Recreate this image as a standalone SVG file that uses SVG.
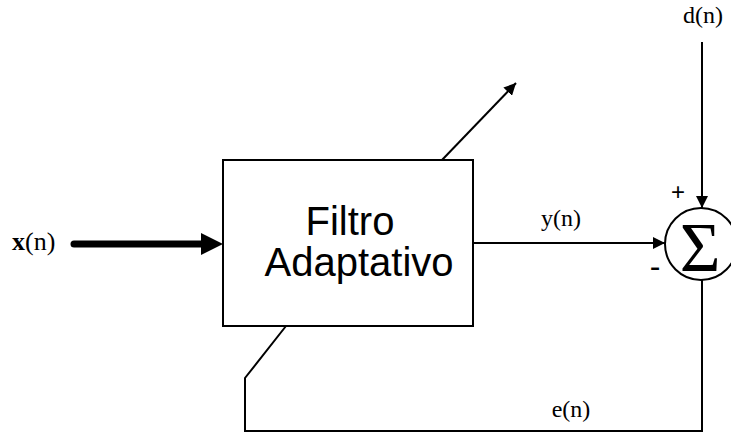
<svg xmlns="http://www.w3.org/2000/svg" width="731" height="439" viewBox="0 0 731 439">
<style>
.ln{fill:none;stroke:#000;stroke-width:2}
.lbl{font-family:"Liberation Serif","Times New Roman",serif;font-size:24px;fill:#000}
.sans{font-family:"Liberation Sans",Arial,sans-serif;fill:#000}
</style>
<defs>
<marker id="ah2" viewBox="0 0 10 10" refX="10" refY="5" markerWidth="12" markerHeight="12" markerUnits="userSpaceOnUse" orient="auto">
<path d="M0,0 L10,5 L0,10 z" fill="#000"/>
</marker>
</defs>
<g id="connectors">
<line x1="74" y1="244" x2="205" y2="244" stroke="#000" stroke-width="7" stroke-linecap="round"/>
<path d="M201,233 L223,244 L201,255 z" fill="#000"/>
<line class="ln" x1="442" y1="160" x2="516" y2="83" marker-end="url(#ah2)"/>
<line class="ln" x1="473" y1="243" x2="665" y2="243" marker-end="url(#ah2)"/>
<line class="ln" x1="702" y1="42" x2="702" y2="208" marker-end="url(#ah2)"/>
<polyline class="ln" points="702,280 702,431 245,431 245,378 286,326"/>
</g>
<g id="filtro">
<rect class="ln" x="223" y="160" width="250" height="166"/>
<text class="sans" font-size="40" x="350" y="235" text-anchor="middle">Filtro</text>
<text class="sans" font-size="40" x="359" y="276" text-anchor="middle">Adaptativo</text>
</g>
<g id="sumador">
<circle class="ln" cx="701" cy="244" r="36"/>
<text x="700" y="271" text-anchor="middle" font-family="Liberation Serif,serif" font-size="70">Σ</text>
<text class="sans" font-size="24" x="678" y="200" text-anchor="middle">+</text>
<text class="sans" font-size="32" x="655" y="277" text-anchor="middle">-</text>
</g>
<g id="labels">
<text class="lbl" x="12" y="250" style="font-size:26px"><tspan font-weight="bold">x</tspan>(n)</text>
<text class="lbl" x="561" y="226" text-anchor="middle">y(n)</text>
<text class="lbl" x="703" y="23" text-anchor="middle">d(n)</text>
<text class="lbl" x="571" y="417" text-anchor="middle">e(n)</text>
</g>
</svg>
